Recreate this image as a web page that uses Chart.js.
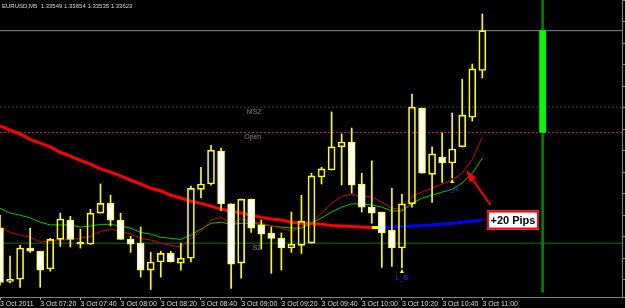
<!DOCTYPE html>
<html>
<head>
<meta charset="utf-8">
<script src="https://cdn.jsdelivr.net/npm/chart.js@4/dist/chart.umd.min.js"></script>
<style>
  html, body { margin: 0; padding: 0; background: #000; }
</style>
</head>
<body>
<canvas id="chart" width="625" height="308"></canvas>
<script>
var symbolName = 'EURUSD,M5';
// one tick label every 4 bars (20 minutes), first bar is 07:00
var tickLabels = ['3 Oct 2011', '3 Oct 07:20', '3 Oct 07:40', '3 Oct 08:00', '3 Oct 08:20', '3 Oct 08:40',
  '3 Oct 09:00', '3 Oct 09:20', '3 Oct 09:40', '3 Oct 10:00', '3 Oct 10:20', '3 Oct 10:40', '3 Oct 11:00'];

var opens = [1.33256, 1.33157, 1.33161, 1.33219, 1.33213, 1.33180, 1.33235, 1.33271, 1.33230, 1.33226,
  1.33284, 1.33302, 1.33271, 1.33235, 1.33228, 1.33178, 1.33193, 1.33209, 1.33191, 1.33200,
  1.33328, 1.33338, 1.33399, 1.33301, 1.33191, 1.33310, 1.33262, 1.33247, 1.33237, 1.33219,
  1.33224, 1.33228, 1.33351, 1.33364, 1.33407, 1.33416, 1.33338, 1.33295, 1.33286, 1.33252,
  1.33219, 1.33301, 1.33479, 1.33356, 1.33388, 1.33377, 1.33407, 1.33462, 1.33549];
var highs = [1.33280, 1.33204, 1.33224, 1.33256, 1.33213, 1.33237, 1.33284, 1.33278, 1.33254, 1.33291,
  1.33338, 1.33317, 1.33284, 1.33241, 1.33258, 1.33211, 1.33213, 1.33213, 1.33228, 1.33334,
  1.33369, 1.33410, 1.33405, 1.33301, 1.33310, 1.33310, 1.33271, 1.33258, 1.33247, 1.33286,
  1.33317, 1.33358, 1.33369, 1.33472, 1.33431, 1.33442, 1.33358, 1.33381, 1.33286, 1.33330,
  1.33319, 1.33505, 1.33479, 1.33407, 1.33433, 1.33470, 1.33533, 1.33561, 1.33654];
var lows = [1.33150, 1.33154, 1.33146, 1.33211, 1.33146, 1.33176, 1.33222, 1.33221, 1.33219, 1.33226,
  1.33284, 1.33260, 1.33235, 1.33211, 1.33165, 1.33142, 1.33165, 1.33193, 1.33178, 1.33193,
  1.33312, 1.33336, 1.33289, 1.33144, 1.33163, 1.33248, 1.33217, 1.33172, 1.33178, 1.33211,
  1.33209, 1.33228, 1.33338, 1.33364, 1.33336, 1.33321, 1.33286, 1.33265, 1.33183, 1.33185,
  1.33182, 1.33295, 1.33358, 1.33304, 1.33341, 1.33349, 1.33407, 1.33455, 1.33535];
var closes = [1.33155, 1.33161, 1.33219, 1.33213, 1.33178, 1.33235, 1.33273, 1.33235, 1.33226, 1.33284,
  1.33302, 1.33271, 1.33235, 1.33226, 1.33178, 1.33193, 1.33209, 1.33193, 1.33200, 1.33330,
  1.33338, 1.33401, 1.33301, 1.33189, 1.33310, 1.33256, 1.33245, 1.33237, 1.33219, 1.33226,
  1.33269, 1.33353, 1.33366, 1.33407, 1.33416, 1.33336, 1.33295, 1.33284, 1.33247, 1.33219,
  1.33301, 1.33481, 1.33358, 1.33394, 1.33377, 1.33403, 1.33466, 1.33552, 1.33623];

// moving averages
var maSlow = [1.33446, 1.33438, 1.33431, 1.33421, 1.33414, 1.33407, 1.33397, 1.33390, 1.33382, 1.33375,
  1.33366, 1.33360, 1.33353, 1.33345, 1.33338, 1.33330, 1.33325, 1.33317, 1.33312, 1.33306,
  1.33302, 1.33297, 1.33291, 1.33288, 1.33284, 1.33280, 1.33276, 1.33273, 1.33271, 1.33267,
  1.33265, 1.33264, 1.33263, 1.33261, 1.33260, 1.33259, 1.33258, 1.33257, 1.33257, 1.33258,
  1.33259, 1.33260, 1.33261, 1.33262, 1.33263, 1.33265, 1.33267, 1.33269, 1.33271];
var maFast = [1.33260, 1.33248, 1.33243, 1.33239, 1.33230, 1.33232, 1.33234, 1.33235, 1.33237, 1.33241,
  1.33250, 1.33254, 1.33250, 1.33245, 1.33237, 1.33234, 1.33228, 1.33224, 1.33221, 1.33237,
  1.33250, 1.33271, 1.33276, 1.33265, 1.33273, 1.33269, 1.33265, 1.33260, 1.33256, 1.33250,
  1.33258, 1.33267, 1.33284, 1.33302, 1.33315, 1.33319, 1.33315, 1.33314, 1.33304, 1.33293,
  1.33291, 1.33315, 1.33323, 1.33330, 1.33338, 1.33345, 1.33358, 1.33384, 1.33425];
var maMid = [1.33293, 1.33284, 1.33280, 1.33275, 1.33267, 1.33262, 1.33262, 1.33262, 1.33258, 1.33260,
  1.33263, 1.33263, 1.33260, 1.33256, 1.33248, 1.33245, 1.33239, 1.33237, 1.33235, 1.33243,
  1.33254, 1.33265, 1.33267, 1.33263, 1.33265, 1.33265, 1.33263, 1.33260, 1.33258, 1.33256,
  1.33256, 1.33265, 1.33275, 1.33286, 1.33295, 1.33301, 1.33301, 1.33299, 1.33295, 1.33288,
  1.33288, 1.33302, 1.33312, 1.33317, 1.33323, 1.33328, 1.33340, 1.33358, 1.33386];

// horizontal levels
var bidLevel = 1.33623;
var ms2Level = 1.33481;
var openLevel = 1.33434;
var s2Level = 1.33228;

var signalBars = [40, 45];   // L_B marks under these bars
var gainBar = 54;            // column of the green gain bar
var pipsText = '+20 Pips';

var priceMin = 1.33128, priceMax = 1.33680;
var barsMax = 61.9;

var n = opens.length;
var bodies = [], upWicks = [], downWicks = [], bodyFill = [];
for (var i = 0; i < n; i++) {
  var hi = Math.max(opens[i], closes[i]);
  var lo = Math.min(opens[i], closes[i]);
  bodies.push({ x: i, y: [lo, hi] });
  upWicks.push({ x: i, y: [hi, highs[i]] });
  downWicks.push({ x: i, y: [lows[i], lo] });
  bodyFill.push(closes[i] >= opens[i] ? 'rgba(0,0,0,0)' : '#ffffff');
}

function series(arr) {
  return arr.map(function (v, i) { return { x: i, y: v }; });
}
function hline(v) {
  return [{ x: -2, y: v }, { x: barsMax + 2, y: v }];
}

var overlay = {
  id: 'overlay',
  afterDatasetsDraw: function (chart) {
    var c = chart.ctx, xs = chart.scales.x, ys = chart.scales.y;
    c.save();

    // header
    c.font = '6px "Liberation Sans"';
    c.fillStyle = '#d8d8d8';
    c.textBaseline = 'top';
    c.textAlign = 'left';
    var last = n - 1;
    c.fillText(symbolName + '  ' + opens[last].toFixed(5) + ' ' + highs[last].toFixed(5) + ' ' +
      lows[last].toFixed(5) + ' ' + closes[last].toFixed(5), 2, 3);

    // level names
    c.font = '7px "Liberation Sans"';
    c.fillStyle = '#808080';
    c.textAlign = 'right';
    var lx = xs.getPixelForValue(26);
    c.fillText('MS2', lx, ys.getPixelForValue(ms2Level) + 1);
    c.fillText('Open', lx, ys.getPixelForValue(openLevel) + 1);
    c.fillText('S2', lx, ys.getPixelForValue(s2Level) + 1);

    // L_B signals
    signalBars.forEach(function (b) {
      var px = xs.getPixelForValue(b), py = ys.getPixelForValue(lows[b]);
      c.fillStyle = '#ffff00';
      c.beginPath();
      c.moveTo(px, py + 1); c.lineTo(px + 2, py + 5); c.lineTo(px - 2, py + 5);
      c.closePath(); c.fill();
      c.fillStyle = '#2a2aff';
      c.textAlign = 'center';
      c.fillText('L_B', px, py + 7);
    });

    // arrow to the fast average
    var ax0 = xs.getPixelForValue(48.8), ay0 = ys.getPixelForValue(1.33299);
    var ax1 = xs.getPixelForValue(46.4), ay1 = ys.getPixelForValue(1.33364);
    var ang = Math.atan2(ay1 - ay0, ax1 - ax0);
    c.strokeStyle = '#ff0000';
    c.fillStyle = '#ff0000';
    c.lineWidth = 2;
    c.beginPath(); c.moveTo(ax0, ay0);
    c.lineTo(ax1 - 9 * Math.cos(ang), ay1 - 9 * Math.sin(ang)); c.stroke();
    c.beginPath();
    c.moveTo(ax1, ay1);
    c.lineTo(ax1 - 12 * Math.cos(ang) + 4 * Math.sin(ang), ay1 - 12 * Math.sin(ang) - 4 * Math.cos(ang));
    c.lineTo(ax1 - 12 * Math.cos(ang) - 4 * Math.sin(ang), ay1 - 12 * Math.sin(ang) + 4 * Math.cos(ang));
    c.closePath(); c.fill();

    // +20 Pips box
    var bx = xs.getPixelForValue(51.05), by = ys.getPixelForValue(1.33271);
    c.fillStyle = '#ffffff';
    c.fillRect(bx - 26, by - 9.5, 52, 19);
    c.lineWidth = 2;
    c.strokeRect(bx - 25, by - 8.5, 50, 17);
    c.fillStyle = '#000000';
    c.font = 'bold 11px "Liberation Sans"';
    c.textAlign = 'center';
    c.textBaseline = 'middle';
    c.fillText(pipsText, bx, by + 0.5);
    c.restore();
  }
};

new Chart(document.getElementById('chart'), {
  data: {
    datasets: [
      { type: 'bar', data: bodies, backgroundColor: bodyFill, borderColor: '#ffff00', borderWidth: 1,
        borderSkipped: false, barThickness: 7, grouped: false, order: 0 },
      { type: 'bar', data: upWicks, backgroundColor: '#ffff00', barThickness: 1, grouped: false, order: 1 },
      { type: 'bar', data: downWicks, backgroundColor: '#ffff00', barThickness: 1, grouped: false, order: 1 },
      { type: 'line', data: series(maFast), borderColor: '#d00000', borderWidth: 1, pointRadius: 0, order: 2 },
      { type: 'line', data: series(maMid), borderColor: '#00c800', borderWidth: 1, pointRadius: 0, order: 2 },
      { type: 'line', data: series(maSlow), borderColor: '#ff0000', borderWidth: 3, pointRadius: 0, order: 2,
        segment: { borderColor: function (ctx) {
          var a = ctx.p0.parsed.y, b = ctx.p1.parsed.y;
          return b < a ? '#ff0000' : (b > a ? '#0000ff' : '#ffff00');
        } } },
      { type: 'bar', data: [{ x: gainBar, y: [priceMin + 0.00009, priceMax] }], backgroundColor: '#008000',
        barThickness: 2, grouped: false, order: 4 },
      { type: 'bar', data: [{ x: gainBar, y: [openLevel, bidLevel] }], backgroundColor: '#00ff00',
        barThickness: 6, grouped: false, order: 3 },
      { type: 'line', data: hline(bidLevel), borderColor: '#778899', borderWidth: 1, pointRadius: 0, order: 5 },
      { type: 'line', data: hline(ms2Level), borderColor: '#4a4a00', borderWidth: 1, borderDash: [2, 2], pointRadius: 0, order: 5 },
      { type: 'line', data: hline(openLevel), borderColor: '#d0149a', borderWidth: 1, borderDash: [2, 2], pointRadius: 0, order: 5 },
      { type: 'line', data: hline(s2Level), borderColor: '#0a4a0a', borderWidth: 1.5, pointRadius: 0, order: 5 }
    ]
  },
  options: {
    responsive: false,
    animation: false,
    layout: { padding: 0 },
    plugins: { legend: { display: false }, tooltip: { enabled: false } },
    scales: {
      x: {
        type: 'linear', min: 0, max: barsMax, offset: false,
        afterFit: function (s) { s.height = 11; },
        border: { color: '#808080' },
        grid: {
          offset: false, drawOnChartArea: false, drawTicks: true, tickLength: 3,
          color: function (ctx) {
            var v = ctx.tick ? ctx.tick.value : -1;
            return (v % 4 === 0 && v / 4 < tickLabels.length) ? '#a0a0a0' : 'rgba(0,0,0,0)';
          }
        },
        ticks: {
          stepSize: 4, autoSkip: false, maxRotation: 0, align: 'start', padding: 0,
          color: '#d8d8d8', font: { family: 'Liberation Sans', size: 7 },
          callback: function (v) {
            return (v % 4 === 0 && v / 4 < tickLabels.length) ? tickLabels[v / 4] : '';
          }
        }
      },
      y: {
        type: 'linear', position: 'right', min: priceMin, max: priceMax,
        afterFit: function (s) { s.width = 3; },
        border: { color: '#808080' },
        grid: { drawOnChartArea: false, drawTicks: true, tickLength: 3, color: '#808080' },
        ticks: { display: false, stepSize: 0.0004 }
      }
    }
  },
  plugins: [overlay]
});
</script>
</body>
</html>
